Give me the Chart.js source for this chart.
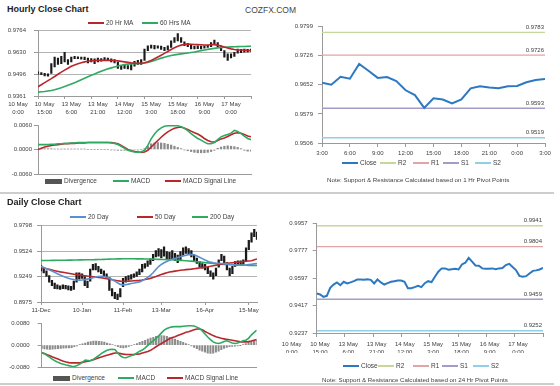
<!DOCTYPE html>
<html>
<head>
<meta charset="utf-8">
<script src="https://cdn.jsdelivr.net/npm/chart.js@4.4.1/dist/chart.umd.min.js"></script>
<style>
  body { margin: 0; background: #fff; }
  #page { position: relative; width: 560px; height: 386px; overflow: hidden; font-family: "Liberation Sans", Arial, sans-serif; color: #404040; }
  #page canvas { position: absolute; }
  .title { position: absolute; left: 7px; font-size: 9px; line-height: 10px; font-weight: bold; color: #222; }
  .brand { position: absolute; left: 245px; top: 5px; font-size: 8.5px; line-height: 10px; color: #444; }
  .rule { position: absolute; left: 0; width: 554px; height: 2px; background: #cdcdcd; }
  .lg { position: absolute; font-size: 6.5px; line-height: 8px; white-space: nowrap; }
  .lg i { display: inline-block; width: 16px; height: 2px; margin-right: 2px; vertical-align: middle; }
  .lg i.box { width: 17px; height: 5px; background: #555; }
  .note { position: absolute; font-size: 6.2px; line-height: 7px; white-space: nowrap; }
</style>
</head>
<body>
<div id="page">
  <div class="title" style="top:4px">Hourly Close Chart</div>
  <div class="brand">COZFX.COM</div>

  <canvas id="hourPrice" width="254" height="92" style="left:0;top:24px"></canvas>
  <canvas id="hourMacd" width="254" height="60" style="left:0;top:118px"></canvas>
  <canvas id="hourPivot" width="278" height="137" style="left:280px;top:20px"></canvas>

  <div class="lg" style="left:88px;top:19px"><i style="background:#b9272d"></i>20 Hr MA</div>
  <div class="lg" style="left:142px;top:19px"><i style="background:#2eaa62"></i>60 Hrs MA</div>

  <div class="lg" style="left:45px;top:177px"><i class="box"></i>Divergence</div>
  <div class="lg" style="left:113px;top:177px"><i style="background:#2eaa62"></i>MACD</div>
  <div class="lg" style="left:165px;top:177px"><i style="background:#b9272d"></i>MACD Signal Line</div>

  <div class="lg" style="left:342px;top:159px"><i style="background:#2c79c2"></i>Close</div>
  <div class="lg" style="left:380px;top:159px"><i style="background:#c5d79a"></i>R2</div>
  <div class="lg" style="left:413px;top:159px"><i style="background:#e2a4a4"></i>R1</div>
  <div class="lg" style="left:443px;top:159px"><i style="background:#a49bc8"></i>S1</div>
  <div class="lg" style="left:475px;top:159px"><i style="background:#8ed0e6"></i>S2</div>
  <div class="note" style="left:327px;top:176px">Note: Support &amp; Resistance Calculated based on 1 Hr Pivot Points</div>

  <div class="rule" style="top:192px"></div>
  <div class="title" style="top:197px">Daily Close Chart</div>

  <canvas id="dayPrice" width="260" height="96" style="left:0;top:219px"></canvas>
  <canvas id="dayMacd" width="260" height="55" style="left:0;top:316px"></canvas>
  <canvas id="dayPivot" width="276" height="137" style="left:270px;top:216px"></canvas>

  <div class="lg" style="left:70px;top:213px"><i style="background:#5b8fcf"></i>20 Day</div>
  <div class="lg" style="left:137px;top:213px"><i style="background:#b9272d"></i>50 Day</div>
  <div class="lg" style="left:192px;top:213px"><i style="background:#2eaa62"></i>200 Day</div>

  <div class="lg" style="left:53px;top:374px"><i class="box"></i>Divergence</div>
  <div class="lg" style="left:118px;top:374px"><i style="background:#2eaa62"></i>MACD</div>
  <div class="lg" style="left:167px;top:374px"><i style="background:#b9272d"></i>MACD Signal Line</div>

  <div class="lg" style="left:343px;top:362px"><i style="background:#2c79c2"></i>Close</div>
  <div class="lg" style="left:378px;top:362px"><i style="background:#c5d79a"></i>R2</div>
  <div class="lg" style="left:413px;top:362px"><i style="background:#e2a4a4"></i>R1</div>
  <div class="lg" style="left:442px;top:362px"><i style="background:#a49bc8"></i>S1</div>
  <div class="lg" style="left:473px;top:362px"><i style="background:#8ed0e6"></i>S2</div>
  <div class="note" style="left:322px;top:376px">Note: Support &amp; Resistance Calculated based on 24 Hr Pivot Points</div>

  <div class="rule" style="top:383px"></div>
</div>

<script>
// === HOURLY DATA ===
const hourTicks = [["10 May", "0:00"], ["10 May", "15:00"], ["13 May", "6:00"], ["13 May", "21:00"], ["14 May", "12:00"],
  ["15 May", "3:00"], ["15 May", "18:00"], ["16 May", "9:00"], ["17 May", "0:00"]];
const hourlyYTicks = [0.9361, 0.9496, 0.9630, 0.9764];
const hourlyLow = [0.9495, 0.9492, 0.9485, 0.9483, 0.9500, 0.9540, 0.9555, 0.9560, 0.9570, 0.9555,
  0.9570, 0.9590, 0.9590, 0.9588, 0.9585, 0.9565, 0.9570, 0.9560, 0.9570, 0.9575,
  0.9578, 0.9580, 0.9570, 0.9565, 0.9530, 0.9525, 0.9530, 0.9528, 0.9522, 0.9545,
  0.9555, 0.9555, 0.9580, 0.9640, 0.9655, 0.9650, 0.9655, 0.9648, 0.9640, 0.9645,
  0.9660, 0.9690, 0.9700, 0.9690, 0.9670, 0.9665, 0.9650, 0.9650, 0.9652, 0.9650,
  0.9655, 0.9660, 0.9665, 0.9680, 0.9665, 0.9640, 0.9600, 0.9580, 0.9595, 0.9605,
  0.9625, 0.9628, 0.9630, 0.9632, 0.9635];
const hourlyHigh = [0.9510, 0.9505, 0.9500, 0.9497, 0.9560, 0.9600, 0.9595, 0.9605, 0.9630, 0.9585,
  0.9600, 0.9605, 0.9602, 0.9600, 0.9600, 0.9595, 0.9592, 0.9590, 0.9595, 0.9592,
  0.9598, 0.9595, 0.9590, 0.9585, 0.9570, 0.9550, 0.9552, 0.9548, 0.9555, 0.9575,
  0.9580, 0.9585, 0.9650, 0.9670, 0.9675, 0.9672, 0.9670, 0.9668, 0.9660, 0.9670,
  0.9700, 0.9720, 0.9745, 0.9720, 0.9695, 0.9685, 0.9675, 0.9668, 0.9670, 0.9668,
  0.9670, 0.9672, 0.9690, 0.9705, 0.9690, 0.9670, 0.9640, 0.9620, 0.9620, 0.9630,
  0.9650, 0.9648, 0.9650, 0.9648, 0.9650];
const hourlyMA20 = [0.9418, 0.9430, 0.9443, 0.9456, 0.9468, 0.9481, 0.9495, 0.9508, 0.9520, 0.9532,
  0.9544, 0.9552, 0.9560, 0.9566, 0.9571, 0.9575, 0.9578, 0.9579, 0.9580, 0.9580,
  0.9580, 0.9581, 0.9580, 0.9579, 0.9577, 0.9574, 0.9571, 0.9568, 0.9565, 0.9563,
  0.9562, 0.9563, 0.9566, 0.9572, 0.9580, 0.9590, 0.9601, 0.9612, 0.9623, 0.9635,
  0.9647, 0.9658, 0.9667, 0.9674, 0.9678, 0.9680, 0.9679, 0.9678, 0.9677, 0.9676,
  0.9675, 0.9675, 0.9676, 0.9677, 0.9674, 0.9669, 0.9663, 0.9656, 0.9651, 0.9647,
  0.9645, 0.9644, 0.9643, 0.9641, 0.9640];
const hourlyMA60 = [0.9385, 0.9387, 0.9389, 0.9392, 0.9395, 0.9400, 0.9406, 0.9412, 0.9419, 0.9427,
  0.9435, 0.9443, 0.9452, 0.9461, 0.9470, 0.9479, 0.9488, 0.9496, 0.9505, 0.9513,
  0.9521, 0.9528, 0.9534, 0.9540, 0.9545, 0.9550, 0.9554, 0.9557, 0.9559, 0.9560,
  0.9561, 0.9562, 0.9564, 0.9568, 0.9573, 0.9580, 0.9587, 0.9594, 0.9600, 0.9605,
  0.9610, 0.9614, 0.9617, 0.9620, 0.9623, 0.9626, 0.9629, 0.9632, 0.9636, 0.9640,
  0.9644, 0.9648, 0.9651, 0.9654, 0.9657, 0.9660, 0.9661, 0.9662, 0.9663, 0.9664,
  0.9665, 0.9666, 0.9666, 0.9667, 0.9667];

const hourlyMacdTicks = [-0.006, 0, 0.006];
const hourlyMacd = [0.0012, 0.0012, 0.0012, 0.0012, 0.0013, 0.0013, 0.0014, 0.0014, 0.0015, 0.0015,
  0.0016, 0.0016, 0.0017, 0.0017, 0.0017, 0.0017, 0.0017, 0.0017, 0.0017, 0.0017,
  0.0017, 0.0017, 0.0016, 0.0015, 0.0012, 0.0008, 0.0003, -0.0002, -0.0004, -0.0006,
  -0.0007, -0.0006, -0.0002, 0.0010, 0.0026, 0.0038, 0.0047, 0.0053, 0.0057, 0.0058,
  0.0059, 0.0058, 0.0058, 0.0056, 0.0052, 0.0046, 0.0039, 0.0033, 0.0027, 0.0023,
  0.0018, 0.0014, 0.0014, 0.0017, 0.0024, 0.0031, 0.0034, 0.0037, 0.0040, 0.0047,
  0.0044, 0.0039, 0.0033, 0.0027, 0.0024];
const hourlySignal = [0.0000, 0.0003, 0.0006, 0.0008, 0.0010, 0.0011, 0.0012, 0.0013, 0.0014, 0.0014,
  0.0015, 0.0015, 0.0016, 0.0016, 0.0016, 0.0017, 0.0017, 0.0017, 0.0017, 0.0017,
  0.0017, 0.0017, 0.0017, 0.0016, 0.0014, 0.0010, 0.0005, 0.0000, -0.0003, -0.0005,
  -0.0006, -0.0007, -0.0006, -0.0002, 0.0006, 0.0014, 0.0022, 0.0030, 0.0037, 0.0043,
  0.0048, 0.0052, 0.0054, 0.0055, 0.0052, 0.0049, 0.0045, 0.0041, 0.0038, 0.0033,
  0.0027, 0.0022, 0.0019, 0.0018, 0.0022, 0.0026, 0.0028, 0.0032, 0.0036, 0.0040,
  0.0041, 0.0040, 0.0037, 0.0033, 0.0031];
const hourlyDiv = [0.0002, 0.0002, 0.0002, 0.0002, 0.0002, 0.0001, 0.0001, 0.0001, 0.0001, 0.0001,
  0.0001, 0.0001, 0.0001, 0.0001, 0.0001, 0.0000, 0.0000, 0.0000, 0.0000, 0.0000,
  0.0000, 0.0000, -0.0001, -0.0001, -0.0002, -0.0002, -0.0002, -0.0002, -0.0001, -0.0001,
  -0.0001, 0.0000, 0.0002, 0.0008, 0.0014, 0.0016, 0.0017, 0.0016, 0.0015, 0.0013,
  0.0011, 0.0008, 0.0005, 0.0002, -0.0001, -0.0003, -0.0005, -0.0007, -0.0008, -0.0008,
  -0.0008, -0.0007, -0.0005, -0.0002, 0.0003, 0.0006, 0.0008, 0.0009, 0.0008, 0.0007,
  0.0005, 0.0002, -0.0002, -0.0004, -0.0004];

// 1 hr pivot chart
const pivotHourTicks = ["3:00", "6:00", "9:00", "12:00", "15:00", "18:00", "21:00", "0:00", "3:00"];
const pivotHourYTicks = [0.9506, 0.9579, 0.9652, 0.9726, 0.9799];
const pivotHourClose = [0.9657, 0.9652, 0.9672, 0.9667, 0.9704, 0.9687, 0.9669, 0.9671, 0.9661, 0.9638,
  0.9626, 0.9594, 0.9618, 0.9615, 0.9605, 0.9615, 0.9643, 0.9648, 0.9645, 0.9643,
  0.9648, 0.9649, 0.9658, 0.9664, 0.9666];
const pivotHourLevels = [0.9783, 0.9726, 0.9593, 0.9519]; // R2, R1, S1, S2

// === DAILY DATA ===
const dayTickIdx = [0, 15, 30, 44, 60, 76];
const dayTicks = ["11-Dec", "10-Jan", "11-Feb", "13-Mar", "16-Apr", "15-May"];
const dailyYTicks = [0.8975, 0.9249, 0.9524, 0.9798];
const dailyLow = [0.9310, 0.9290, 0.9250, 0.9190, 0.9150, 0.9120, 0.9115, 0.9110, 0.9120, 0.9115,
  0.9105, 0.9100, 0.9110, 0.9190, 0.9220, 0.9230, 0.9150, 0.9130, 0.9200, 0.9320,
  0.9320, 0.9300, 0.9280, 0.9250, 0.9230, 0.9100, 0.9040, 0.9010, 0.9000, 0.9030,
  0.9140, 0.9190, 0.9210, 0.9220, 0.9240, 0.9250, 0.9270, 0.9300, 0.9340, 0.9360,
  0.9380, 0.9420, 0.9460, 0.9470, 0.9450, 0.9470, 0.9440, 0.9430, 0.9440, 0.9420,
  0.9400, 0.9430, 0.9480, 0.9500, 0.9490, 0.9460, 0.9420, 0.9390, 0.9350, 0.9340,
  0.9320, 0.9280, 0.9250, 0.9220, 0.9260, 0.9350, 0.9420, 0.9400, 0.9320, 0.9260,
  0.9280, 0.9360, 0.9370, 0.9370, 0.9380, 0.9420, 0.9540, 0.9620, 0.9680, 0.9650];
const dailyHigh = [0.9370, 0.9345, 0.9310, 0.9260, 0.9210, 0.9180, 0.9160, 0.9150, 0.9160, 0.9155,
  0.9150, 0.9145, 0.9200, 0.9290, 0.9290, 0.9280, 0.9250, 0.9200, 0.9330, 0.9380,
  0.9390, 0.9360, 0.9330, 0.9310, 0.9280, 0.9240, 0.9120, 0.9080, 0.9060, 0.9120,
  0.9230, 0.9250, 0.9260, 0.9270, 0.9280, 0.9300, 0.9330, 0.9380, 0.9390, 0.9420,
  0.9440, 0.9490, 0.9530, 0.9550, 0.9540, 0.9570, 0.9520, 0.9510, 0.9530, 0.9500,
  0.9480, 0.9520, 0.9560, 0.9570, 0.9550, 0.9530, 0.9480, 0.9450, 0.9410, 0.9390,
  0.9380, 0.9350, 0.9310, 0.9290, 0.9340, 0.9430, 0.9490, 0.9470, 0.9400, 0.9340,
  0.9360, 0.9410, 0.9420, 0.9420, 0.9430, 0.9560, 0.9640, 0.9720, 0.9760, 0.9730];
const dailyMA20 = [0.9360, 0.9348, 0.9335, 0.9322, 0.9310, 0.9295, 0.9280, 0.9266, 0.9254, 0.9242,
  0.9232, 0.9224, 0.9217, 0.9212, 0.9210, 0.9212, 0.9216, 0.9222, 0.9228, 0.9236,
  0.9244, 0.9250, 0.9252, 0.9250, 0.9243, 0.9233, 0.9218, 0.9200, 0.9182, 0.9165,
  0.9160, 0.9162, 0.9168, 0.9175, 0.9180, 0.9186, 0.9192, 0.9205, 0.9222, 0.9240,
  0.9262, 0.9290, 0.9325, 0.9358, 0.9380, 0.9398, 0.9412, 0.9424, 0.9435, 0.9445,
  0.9455, 0.9463, 0.9472, 0.9480, 0.9486, 0.9488, 0.9484, 0.9472, 0.9458, 0.9443,
  0.9428, 0.9415, 0.9405, 0.9398, 0.9395, 0.9393, 0.9391, 0.9389, 0.9386, 0.9383,
  0.9380, 0.9377, 0.9374, 0.9372, 0.9372, 0.9374, 0.9378, 0.9382, 0.9386, 0.9390];
const dailyMA50 = [0.9348, 0.9341, 0.9334, 0.9327, 0.9320, 0.9313, 0.9306, 0.9300, 0.9295, 0.9290,
  0.9285, 0.9280, 0.9275, 0.9270, 0.9266, 0.9262, 0.9259, 0.9255, 0.9252, 0.9248,
  0.9244, 0.9241, 0.9238, 0.9232, 0.9226, 0.9220, 0.9215, 0.9210, 0.9205, 0.9200,
  0.9199, 0.9199, 0.9200, 0.9202, 0.9204, 0.9206, 0.9208, 0.9212, 0.9218, 0.9224,
  0.9230, 0.9240, 0.9250, 0.9261, 0.9272, 0.9281, 0.9290, 0.9298, 0.9303, 0.9308,
  0.9313, 0.9318, 0.9321, 0.9324, 0.9327, 0.9330, 0.9334, 0.9338, 0.9342, 0.9346,
  0.9351, 0.9355, 0.9360, 0.9366, 0.9372, 0.9377, 0.9383, 0.9387, 0.9392, 0.9396,
  0.9399, 0.9402, 0.9405, 0.9408, 0.9411, 0.9414, 0.9417, 0.9420, 0.9430, 0.9440];
const dailyMA200 = [0.9422, 0.9422, 0.9423, 0.9423, 0.9424, 0.9424, 0.9425, 0.9425, 0.9426, 0.9426,
  0.9427, 0.9427, 0.9428, 0.9428, 0.9429, 0.9429, 0.9430, 0.9430, 0.9431, 0.9431,
  0.9432, 0.9433, 0.9434, 0.9435, 0.9436, 0.9437, 0.9438, 0.9439, 0.9440, 0.9440,
  0.9441, 0.9441, 0.9441, 0.9441, 0.9441, 0.9440, 0.9440, 0.9440, 0.9439, 0.9439,
  0.9438, 0.9437, 0.9436, 0.9435, 0.9434, 0.9433, 0.9432, 0.9431, 0.9430, 0.9428,
  0.9426, 0.9424, 0.9422, 0.9420, 0.9418, 0.9416, 0.9413, 0.9410, 0.9407, 0.9404,
  0.9400, 0.9397, 0.9394, 0.9391, 0.9388, 0.9385, 0.9383, 0.9381, 0.9379, 0.9377,
  0.9376, 0.9375, 0.9374, 0.9373, 0.9372, 0.9371, 0.9370, 0.9370, 0.9369, 0.9369];

const dailyMacdTicks = [-0.008, 0, 0.008];
const dailyMacd = [-0.0028, -0.0031, -0.0038, -0.0045, -0.0052, -0.0058, -0.0063, -0.0067, -0.0070, -0.0073,
  -0.0075, -0.0077, -0.0078, -0.0075, -0.0069, -0.0062, -0.0055, -0.0056, -0.0057, -0.0052,
  -0.0045, -0.0038, -0.0030, -0.0024, -0.0019, -0.0016, -0.0015, -0.0017, -0.0030, -0.0040,
  -0.0045, -0.0046, -0.0042, -0.0038, -0.0035, -0.0028, -0.0022, -0.0018, -0.0010, -0.0001,
  0.0008, 0.0016, 0.0025, 0.0034, 0.0045, 0.0055, 0.0061, 0.0065, 0.0067, 0.0068,
  0.0068, 0.0068, 0.0069, 0.0070, 0.0071, 0.0071, 0.0070, 0.0066, 0.0061, 0.0052,
  0.0041, 0.0030, 0.0020, 0.0012, 0.0008, 0.0006, 0.0009, 0.0013, 0.0016, 0.0012,
  0.0008, 0.0006, 0.0008, 0.0012, 0.0016, 0.0018, 0.0025, 0.0037, 0.0046, 0.0055];
const dailySignal = [-0.0028, -0.0031, -0.0035, -0.0039, -0.0043, -0.0047, -0.0051, -0.0055, -0.0059, -0.0062,
  -0.0064, -0.0065, -0.0065, -0.0065, -0.0065, -0.0063, -0.0061, -0.0059, -0.0056, -0.0053,
  -0.0050, -0.0046, -0.0043, -0.0040, -0.0037, -0.0034, -0.0031, -0.0029, -0.0029, -0.0031,
  -0.0033, -0.0034, -0.0034, -0.0034, -0.0034, -0.0033, -0.0032, -0.0029, -0.0026, -0.0023,
  -0.0019, -0.0013, -0.0006, 0.0000, 0.0006, 0.0012, 0.0018, 0.0024, 0.0028, 0.0031,
  0.0035, 0.0039, 0.0043, 0.0047, 0.0049, 0.0053, 0.0056, 0.0059, 0.0059, 0.0056,
  0.0050, 0.0045, 0.0040, 0.0035, 0.0031, 0.0028, 0.0025, 0.0023, 0.0021, 0.0020,
  0.0018, 0.0016, 0.0014, 0.0012, 0.0012, 0.0012, 0.0013, 0.0015, 0.0018, 0.0021];
const dailyDiv = [-0.0012, -0.0014, -0.0015, -0.0016, -0.0015, -0.0014, -0.0013, -0.0012, -0.0011, -0.0010,
  -0.0010, -0.0009, -0.0006, -0.0003, 0.0002, 0.0005, 0.0008, 0.0011, 0.0013, 0.0015,
  0.0015, 0.0014, 0.0013, 0.0011, 0.0008, 0.0005, 0.0002, -0.0002, -0.0006, -0.0009,
  -0.0010, -0.0008, -0.0005, -0.0002, 0.0002, 0.0006, 0.0010, 0.0014, 0.0018, 0.0022,
  0.0026, 0.0029, 0.0032, 0.0034, 0.0035, 0.0034, 0.0032, 0.0029, 0.0026, 0.0022,
  0.0018, 0.0014, 0.0010, 0.0006, 0.0002, -0.0003, -0.0008, -0.0013, -0.0018, -0.0022,
  -0.0026, -0.0029, -0.0030, -0.0029, -0.0026, -0.0022, -0.0017, -0.0012, -0.0008, -0.0006,
  -0.0005, -0.0004, -0.0003, -0.0001, 0.0002, 0.0006, 0.0010, 0.0014, 0.0017, 0.0019];

// 24 hr pivot chart
const pivotDayYTicks = [0.9237, 0.9417, 0.9597, 0.9777, 0.9957];
const pivotDayClose = [0.9496, 0.9490, 0.9474, 0.9481, 0.9533, 0.9555, 0.9569, 0.9551, 0.9573, 0.9562,
  0.9569, 0.9577, 0.9588, 0.9588, 0.9586, 0.9590, 0.9586, 0.9562, 0.9588, 0.9569,
  0.9555, 0.9564, 0.9573, 0.9577, 0.9581, 0.9581, 0.9573, 0.9531, 0.9531, 0.9538,
  0.9547, 0.9538, 0.9564, 0.9577, 0.9571, 0.9606, 0.9639, 0.9661, 0.9661, 0.9652,
  0.9656, 0.9659, 0.9654, 0.9687, 0.9698, 0.9730, 0.9705, 0.9680, 0.9678, 0.9661,
  0.9659, 0.9659, 0.9661, 0.9656, 0.9661, 0.9663, 0.9683, 0.9691, 0.9670, 0.9650,
  0.9612, 0.9606, 0.9610, 0.9628, 0.9645, 0.9648, 0.9654, 0.9665];
const pivotDayLevels = [0.9941, 0.9804, 0.9459, 0.9252]; // R2, R1, S1, S2

// === ESTILOS ===
const RED = "#b9272d", GREEN = "#2eaa62", BLUE = "#5b8fcf", CLOSE = "#2c79c2", DIV = "#8c8c8c";
const AXIS = "#9a9a9a", GRID = "#b4b4b4";
const LEVEL_COLORS = ["#c5d79a", "#e2a4a4", "#a49bc8", "#8ed0e6"];

Chart.defaults.font.family = '"Liberation Sans", Arial, sans-serif';
Chart.defaults.font.size = 6;
Chart.defaults.color = "#404040";
Chart.defaults.elements.point.radius = 0;

// helpers
const pts = arr => arr.map((v, i) => ({ x: i, y: v }));
const spans = (lo, hi) => lo.map((v, i) => ({ x: i, y: [v, hi[i]] }));
const spread = (labels, n) => labels.map((_, k) => k * (n - 1) / (labels.length - 1));

function yAxis(min, max, ticks, width, pad, grid) {
  return {
    min: min, max: max,
    afterBuildTicks: s => { s.ticks = ticks.map(v => ({ value: v })); },
    afterFit: s => { s.width = width; s.paddingTop = 0; s.paddingBottom = 0; },
    ticks: { callback: v => v.toFixed(4), padding: pad },
    grid: { drawOnChartArea: grid, color: GRID, tickColor: AXIS, tickLength: 4 },
    border: { color: AXIS }
  };
}

function xAxis(n, vals, labels, height, tick, pad, shift) {
  return {
    type: "linear", min: 0, max: n - 1, offset: false,
    afterBuildTicks: s => { s.ticks = vals.map(v => ({ value: v })); },
    afterFit: s => { s.height = height; s.paddingLeft = 0; s.paddingRight = 0; },
    ticks: {
      display: labels !== null, autoSkip: false, maxRotation: 0,
      callback: (v, i) => (labels ? labels[i] : ""), padding: pad, labelOffset: shift,
      font: { lineHeight: 1.35 }
    },
    grid: { offset: false, drawOnChartArea: false, color: AXIS, tickLength: tick, drawTicks: tick > 0 },
    border: { color: AXIS }
  };
}

function baseOptions(padding, scales, extra) {
  return {
    responsive: false,
    animation: false,
    layout: { padding: padding },
    scales: scales,
    plugins: Object.assign({ legend: { display: false }, tooltip: { enabled: false } }, extra || {})
  };
}

const line = (data, color, width) => ({ type: "line", data: pts(data), borderColor: color, borderWidth: width || 1.6 });

// etiquetas de los niveles pivot a la derecha
const levelLabels = {
  id: "levelLabels",
  afterDatasetsDraw(chart, args, opts) {
    const { ctx, chartArea, scales } = chart;
    ctx.save();
    ctx.font = '6px "Liberation Sans", Arial, sans-serif';
    ctx.fillStyle = "#404040";
    ctx.textAlign = "right";
    ctx.textBaseline = "middle";
    opts.levels.forEach(v => ctx.fillText(v.toFixed(4), chartArea.right - 1, scales.y.getPixelForValue(v) - 5));
    ctx.restore();
  }
};

function levelSets(levels, n) {
  return levels.map((v, j) => ({
    type: "line",
    data: [{ x: 0, y: v }, { x: n - 1, y: v }],
    borderColor: LEVEL_COLORS[j],
    borderWidth: 1.4
  }));
}

// === HOURLY CLOSE ===
const nh = hourlyLow.length;
new Chart(document.getElementById("hourPrice"), {
  type: "bar",
  data: {
    datasets: [
      line(hourlyMA20, RED),
      line(hourlyMA60, GREEN),
      { data: spans(hourlyLow, hourlyHigh), backgroundColor: "#1a1a1a", barThickness: 1.5 }
    ]
  },
  options: baseOptions({ top: 6.5, right: 3 }, {
    x: xAxis(nh, spread(hourTicks, nh), hourTicks, 20, 3, 1, -20),
    y: yAxis(0.9361, 0.9764, hourlyYTicks, 38, 8, true)
  })
});

new Chart(document.getElementById("hourMacd"), {
  type: "bar",
  data: {
    datasets: [
      line(hourlyMacd, GREEN),
      line(hourlySignal, RED),
      { data: pts(hourlyDiv), backgroundColor: DIV, barThickness: 1.6 }
    ]
  },
  options: baseOptions({ top: 7, right: 3, bottom: 4 }, {
    x: xAxis(nh, [0], null, 0, 0, 0, 0),
    y: yAxis(-0.006, 0.006, hourlyMacdTicks, 38, 2, false)
  })
});

const np = pivotHourClose.length;
new Chart(document.getElementById("hourPivot"), {
  type: "line",
  data: { datasets: [line(pivotHourClose, CLOSE, 2)].concat(levelSets(pivotHourLevels, np)) },
  options: baseOptions({ top: 6, right: 13 }, {
    x: xAxis(np, spread(pivotHourTicks, np), pivotHourTicks, 14, 4, 2, 0),
    y: yAxis(0.9506, 0.9799, pivotHourYTicks, 42, 5, false)
  }, { levelLabels: { levels: pivotHourLevels } }),
  plugins: [levelLabels]
});

// === DAILY CLOSE ===
const nd = dailyLow.length;
new Chart(document.getElementById("dayPrice"), {
  type: "bar",
  data: {
    datasets: [
      line(dailyMA20, BLUE),
      line(dailyMA50, RED),
      line(dailyMA200, GREEN),
      { data: spans(dailyLow, dailyHigh), backgroundColor: "#1a1a1a", barThickness: 1.6 }
    ]
  },
  options: baseOptions({ top: 6.7, right: 3 }, {
    x: xAxis(nd, dayTickIdx, dayTicks, 13, 3, 1, 0),
    y: yAxis(0.8975, 0.9798, dailyYTicks, 41, 5, true)
  })
});

new Chart(document.getElementById("dayMacd"), {
  type: "bar",
  data: {
    datasets: [
      line(dailyMacd, GREEN),
      line(dailySignal, RED),
      { data: pts(dailyDiv), backgroundColor: DIV, barThickness: 1.4 }
    ]
  },
  options: baseOptions({ top: 7.3, right: 3.3, bottom: 4 }, {
    x: xAxis(nd, [0], null, 0, 0, 0, 0),
    y: yAxis(-0.008, 0.008, dailyMacdTicks, 41.7, 8, false)
  })
});

const npd = pivotDayClose.length;
new Chart(document.getElementById("dayPivot"), {
  type: "line",
  data: { datasets: [line(pivotDayClose, CLOSE, 2)].concat(levelSets(pivotDayLevels, npd)) },
  options: baseOptions({ top: 7.3, right: 3 }, {
    x: xAxis(npd, spread(hourTicks, npd), hourTicks, 20, 4, 3, -25),
    y: yAxis(0.9237, 0.9957, pivotDayYTicks, 46.7, 5, false)
  }, { levelLabels: { levels: pivotDayLevels } }),
  plugins: [levelLabels]
});
</script>
</body>
</html>
